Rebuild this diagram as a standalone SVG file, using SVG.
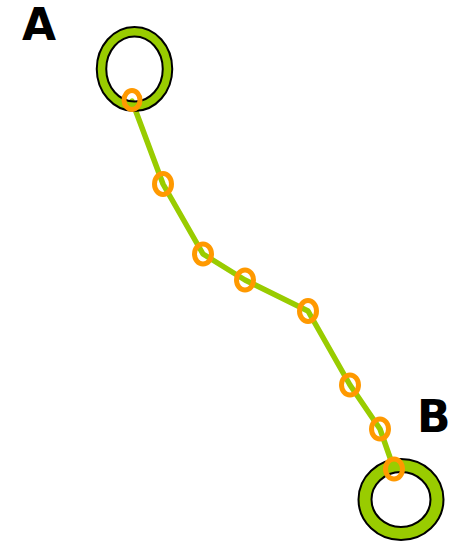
<svg xmlns="http://www.w3.org/2000/svg" width="452" height="542" viewBox="0 0 452 542">
<style>
.lbl{font-family:"DejaVu Sans",sans-serif;font-weight:bold;font-size:44px;fill:#000}
.ring-o{fill:none;stroke:#000}
.ring-i{fill:none;stroke:#99cc00}
.pt{fill:none;stroke:#ff9900;stroke-width:5}
.edge{fill:none;stroke:#99cc00;stroke-width:5.5;stroke-linejoin:round;stroke-linecap:round}
</style>
<rect width="452" height="542" fill="#fff"/>
<g id="connectors">
<polyline class="edge" points="132,101 163,184 203,254 245,280 308,311 350,385 380,429 394,469"/>
</g>
<g id="nodeA">
<ellipse class="ring-o" cx="134.5" cy="69" rx="33" ry="37.3" stroke-width="11.5"/>
<ellipse class="ring-i" cx="134.5" cy="69" rx="33" ry="37.3" stroke-width="7.5"/>
<text class="lbl" x="22" y="40">A</text>
</g>
<g id="nodeB">
<ellipse class="ring-o" cx="401" cy="499.5" rx="36" ry="34" stroke-width="15"/>
<ellipse class="ring-i" cx="401" cy="499.5" rx="36" ry="34" stroke-width="11"/>
<text class="lbl" x="417" y="432">B</text>
</g>
<g id="points">
<ellipse class="pt" cx="132" cy="100" rx="8" ry="9.5"/>
<ellipse class="pt" cx="163" cy="184" rx="8.5" ry="10.5"/>
<ellipse class="pt" cx="203" cy="254" rx="8.5" ry="10"/>
<ellipse class="pt" cx="245" cy="280" rx="8.5" ry="10"/>
<ellipse class="pt" cx="308" cy="311" rx="8.5" ry="10.5"/>
<ellipse class="pt" cx="350" cy="385" rx="8.5" ry="10"/>
<ellipse class="pt" cx="380" cy="429" rx="8.5" ry="10"/>
<ellipse class="pt" cx="394" cy="469" rx="8.5" ry="10"/>
</g>
</svg>
